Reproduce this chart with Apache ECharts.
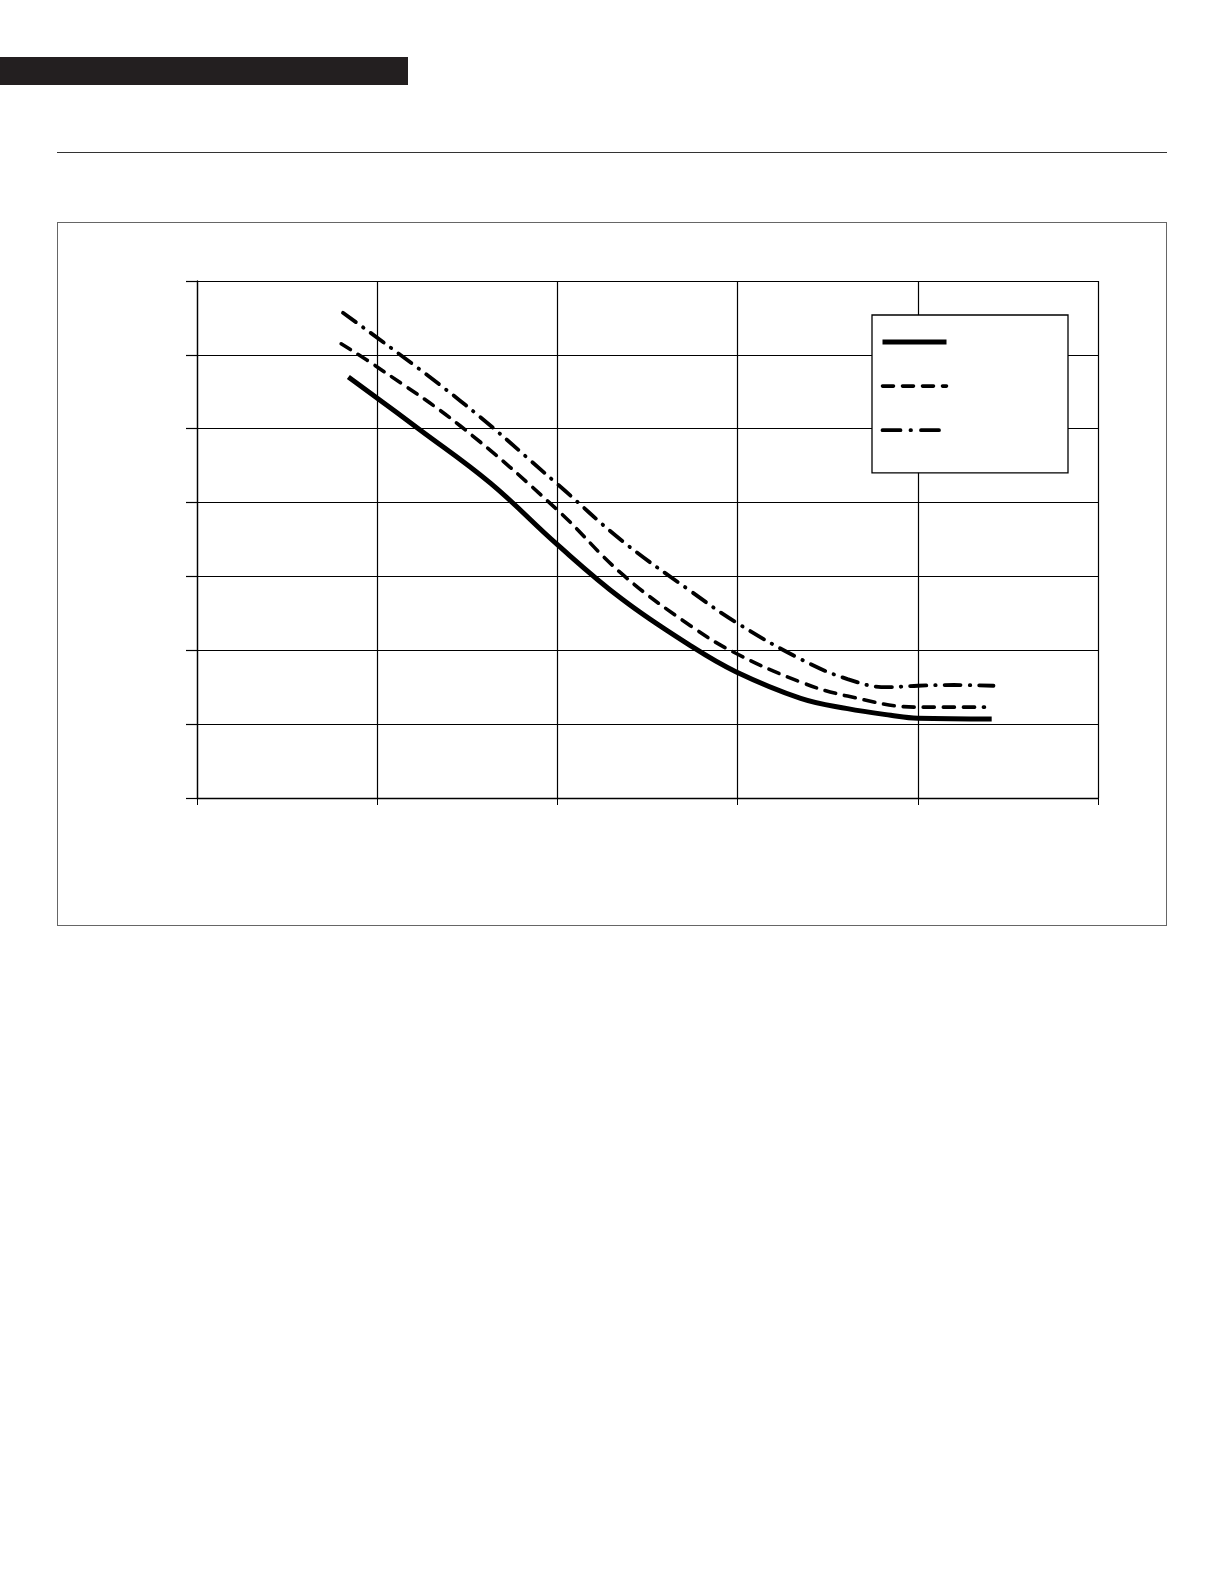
<!DOCTYPE html>
<html>
<head>
<meta charset="utf-8">
<script src="https://cdn.jsdelivr.net/npm/echarts@6/dist/echarts.min.js"></script>
<style>
  html, body { margin: 0; padding: 0; background: #fff; }
  body { width: 1224px; height: 1584px; position: relative; overflow: hidden; }
  /* page decorations */
  #bar { position: absolute; left: 0; top: 57px; width: 408px; height: 28px; background: #231f20; }
  #rule { position: absolute; left: 57px; top: 152px; width: 1110px; height: 0; border-top: 1.5px solid #333; }
  #frame { position: absolute; left: 57px; top: 222px; width: 1108px; height: 702px; border: 1.5px solid #666; }
  #chart { position: absolute; left: 0; top: 0; width: 1224px; height: 1584px; }
</style>
</head>
<body>
<div id="bar"></div>
<div id="rule"></div>
<div id="frame"></div>
<div id="chart"></div>
<script>
// curve readings [x, y] off the picture (x 0..5, y 0..7, no labels shown)
var solidLine = [
  [0.84, 5.70], [1.24, 4.98], [1.63, 4.26], [2.00, 3.43], [2.36, 2.69],
  [2.74, 2.06], [2.99, 1.71], [3.35, 1.35], [3.61, 1.21], [3.85, 1.12],
  [4.00, 1.08], [4.41, 1.07]
];
var dashedLine = [
  [0.80, 6.15], [1.01, 5.82], [1.46, 5.04], [2.00, 3.90], [2.36, 3.03],
  [2.74, 2.33], [2.99, 1.96], [3.35, 1.57], [3.61, 1.38], [4.00, 1.23],
  [4.37, 1.23]
];
var dashDotLine = [
  [0.81, 6.57], [1.46, 5.38], [2.00, 4.25], [2.36, 3.48], [2.74, 2.80],
  [2.99, 2.38], [3.35, 1.88], [3.61, 1.61], [3.83, 1.50], [4.00, 1.52],
  [4.20, 1.53], [4.42, 1.52]
];
var seriesNames = ['A', 'B', 'C'];

var solidStyle = { color: '#000', width: 5, type: 'solid', cap: 'butt' };
var dashedStyle = { color: '#000', width: 3.6, type: [11, 9], cap: 'round' };
var dashDotStyle = { color: '#000', width: 3.8, type: [16, 9, 0.5, 9], cap: 'round' };

var chart = echarts.init(document.getElementById('chart'), null, { renderer: 'canvas' });

var option = {
  animation: false,
  backgroundColor: 'transparent',
  grid: { left: 197, top: 281, width: 901, height: 517, containLabel: false },
  legend: {
    data: [
      { name: seriesNames[0], lineStyle: solidStyle },
      { name: seriesNames[1], lineStyle: dashedStyle },
      { name: seriesNames[2], lineStyle: { color: '#000', width: 3.8, type: [18, 10, 0.5, 10], cap: 'round' } }
    ],
    orient: 'vertical',
    left: 872,
    top: 315,
    itemWidth: 64,
    itemHeight: 14,
    itemGap: 31.5,
    padding: [20, 119, 37, 8],
    backgroundColor: '#fff',
    borderColor: '#000',
    borderWidth: 1.3,
    itemStyle: { opacity: 0 },
    formatter: function () { return ''; },
    textStyle: { fontSize: 10 },
    selectedMode: false
  },
  xAxis: {
    type: 'value',
    min: 0,
    max: 5,
    interval: 1,
    axisLine: { show: true, onZero: false, lineStyle: { color: '#000', width: 1.3 } },
    axisTick: { show: true, length: 7, lineStyle: { color: '#000', width: 1 } },
    axisLabel: { show: false },
    splitLine: { show: true, lineStyle: { color: '#000', width: 1.2 } }
  },
  yAxis: {
    type: 'value',
    min: 0,
    max: 7,
    interval: 1,
    axisLine: { show: true, onZero: false, lineStyle: { color: '#000', width: 1.3 } },
    axisTick: { show: true, length: 11, lineStyle: { color: '#000', width: 1.2 } },
    axisLabel: { show: false },
    splitLine: { show: true, lineStyle: { color: '#000', width: 1.2 } }
  },
  series: [
    {
      name: seriesNames[0],
      type: 'line',
      data: solidLine,
      smooth: 0.4,
      symbol: 'none',
      lineStyle: solidStyle
    },
    {
      name: seriesNames[1],
      type: 'line',
      data: dashedLine,
      smooth: 0.4,
      symbol: 'none',
      lineStyle: dashedStyle
    },
    {
      name: seriesNames[2],
      type: 'line',
      data: dashDotLine,
      smooth: 0.4,
      symbol: 'none',
      lineStyle: dashDotStyle
    }
  ]
};
chart.setOption(option);
</script>
</body>
</html>
